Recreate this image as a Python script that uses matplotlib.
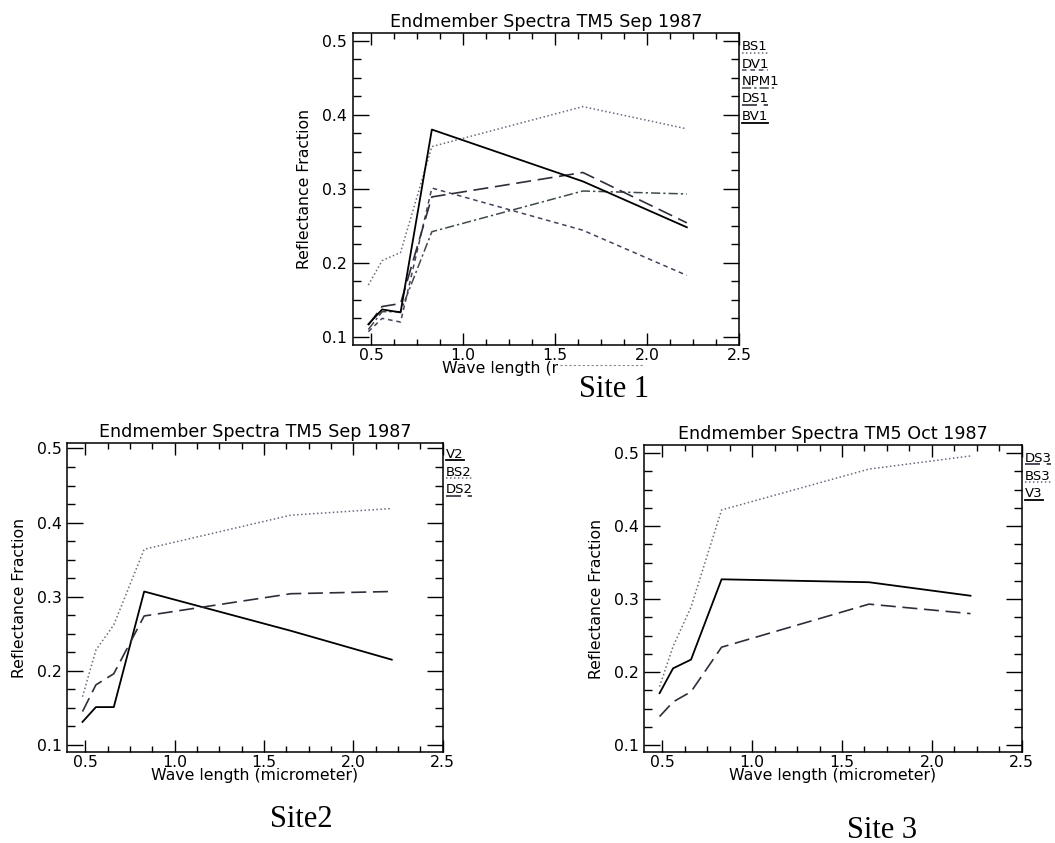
import matplotlib
matplotlib.use("Agg")
import matplotlib.pyplot as plt
from matplotlib.lines import Line2D
from matplotlib.patches import Rectangle
from matplotlib.ticker import MultipleLocator, FormatStrFormatter

W, H = 1055, 843

# centres des bandes TM5 (micrometre)
wavelength = [0.485, 0.56, 0.66, 0.83, 1.65, 2.215]

# Site 1 - Sep 1987
bs1 = [0.170, 0.203, 0.214, 0.357, 0.411, 0.381]
dv1 = [0.107, 0.125, 0.120, 0.301, 0.244, 0.183]
npm1 = [0.110, 0.134, 0.134, 0.242, 0.297, 0.293]
ds1 = [0.116, 0.141, 0.145, 0.289, 0.322, 0.254]
bv1 = [0.117, 0.137, 0.133, 0.380, 0.310, 0.248]

# Site 2 - Sep 1987
v2 = [0.131, 0.151, 0.151, 0.307, 0.254, 0.215]
bs2 = [0.165, 0.228, 0.262, 0.364, 0.410, 0.419]
ds2 = [0.145, 0.181, 0.196, 0.274, 0.304, 0.307]

# Site 3 - Oct 1987
ds3 = [0.139, 0.159, 0.173, 0.234, 0.293, 0.280]
bs3 = [0.180, 0.235, 0.289, 0.422, 0.478, 0.496]
v3 = [0.171, 0.205, 0.217, 0.327, 0.323, 0.3045]

site1_labels = ["BS1", "DV1", "NPM1", "DS1", "BV1"]
site2_labels = ["V2", "BS2", "DS2"]
site3_labels = ["DS3", "BS3", "V3"]

STYLES = {
    "solid": dict(linestyle="-", color="black", linewidth=1.3),
    "dotted": dict(linestyle=(0, (1, 1.6)), color="#6c6a80", linewidth=1.1),
    "dashed": dict(linestyle=(0, (3, 2.5)), color="#4a3f5a", linewidth=1.1),
    "dashdot": dict(linestyle=(0, (6, 2, 1.5, 2)), color="#3f4a4a", linewidth=1.1),
    "longdash": dict(linestyle=(0, (9, 4)), color="#2e2e3a", linewidth=1.2),
}

plt.rcParams["font.family"] = "DejaVu Sans"
fig = plt.figure(figsize=(W / 100, H / 100), dpi=100)


def make_axes(left, top, right, bottom):
    return fig.add_axes([left / W, 1 - bottom / H, (right - left) / W, (bottom - top) / H])


def draw_panel(ax, series, styles, title, ylim):
    for values, style in zip(series, styles):
        ax.plot(wavelength, values, **STYLES[style])
    ax.set_xlim(0.4, 2.5)
    ax.set_ylim(*ylim)
    ax.xaxis.set_major_locator(MultipleLocator(0.5))
    ax.xaxis.set_minor_locator(MultipleLocator(0.125))
    ax.yaxis.set_major_locator(MultipleLocator(0.1))
    ax.yaxis.set_minor_locator(MultipleLocator(0.025))
    ax.xaxis.set_major_formatter(FormatStrFormatter("%.1f"))
    ax.yaxis.set_major_formatter(FormatStrFormatter("%.1f"))
    ax.tick_params(which="both", direction="in", top=True, right=True, width=1,
                   labelsize=11.3, colors="black")
    ax.tick_params(axis="x", which="major", length=8.6, pad=2)
    ax.tick_params(axis="x", which="minor", length=4.3)
    ax.tick_params(axis="y", which="major", length=11.5, pad=4)
    ax.tick_params(axis="y", which="minor", length=5.8)
    for sp in ax.spines.values():
        sp.set_linewidth(1.1)
    ax.set_title(title, fontsize=12.6, pad=4.5)
    ax.set_xlabel("Wave length (micrometer)", fontsize=11.3, labelpad=-1.5)
    ax.set_ylabel("Reflectance Fraction", fontsize=11.3, labelpad=7)


def draw_legend(x, y0, labels, styles, step=17.5):
    # étiquettes façon IDL : texte souligné par le style de trait
    for i, (lab, style) in enumerate(zip(labels, styles)):
        yb = y0 + i * step
        fig.text(x / W, 1 - yb / H, lab, fontsize=9.5, va="baseline", ha="left")
        length = len(lab) * 8 + 2
        fig.add_artist(Line2D([x / W, (x + length) / W], [1 - (yb + 2.5) / H] * 2,
                              transform=fig.transFigure, **STYLES[style]))


site1_styles = ["dotted", "dashed", "dashdot", "longdash", "solid"]
site2_styles = ["solid", "dotted", "longdash"]
site3_styles = ["longdash", "dotted", "solid"]

ax1 = make_axes(352.7, 33.3, 739.3, 345)
draw_panel(ax1, [bs1, dv1, npm1, ds1, bv1], site1_styles,
           "Endmember Spectra TM5 Sep 1987", (0.089, 0.51))
draw_legend(742, 50, site1_labels, site1_styles)

ax2 = make_axes(67.3, 443.3, 442.7, 752.3)
draw_panel(ax2, [v2, bs2, ds2], site2_styles,
           "Endmember Spectra TM5 Sep 1987", (0.09, 0.507))
draw_legend(446, 458, site2_labels, site2_styles)

ax3 = make_axes(644.3, 445, 1021.7, 752.3)
draw_panel(ax3, [ds3, bs3, v3], site3_styles,
           "Endmember Spectra TM5 Oct 1987", (0.09, 0.511))
draw_legend(1025, 462, site3_labels, site3_styles)

# cache blanc sur une partie du titre de l'axe x (comme dans la figure d'origine)
fig.add_artist(Rectangle((558 / W, 1 - 379 / H), (652 - 558) / W, (379 - 360) / H,
                         transform=fig.transFigure, facecolor="white",
                         edgecolor="none", zorder=10))
fig.add_artist(Line2D([560 / W, 643 / W], [1 - 365 / H] * 2, transform=fig.transFigure,
                      linestyle=(0, (2, 2)), color="#888888", linewidth=0.8, zorder=11))

# légendes des sites
cap = dict(family="Liberation Serif", fontsize=22, ha="center", va="baseline", zorder=12)
fig.text(614 / W, 1 - 397 / H, "Site 1", **cap)
fig.text(301 / W, 1 - 827 / H, "Site2", **cap)
fig.text(882 / W, 1 - 838 / H, "Site 3", **cap)

fig.savefig("out.png", dpi=100)
